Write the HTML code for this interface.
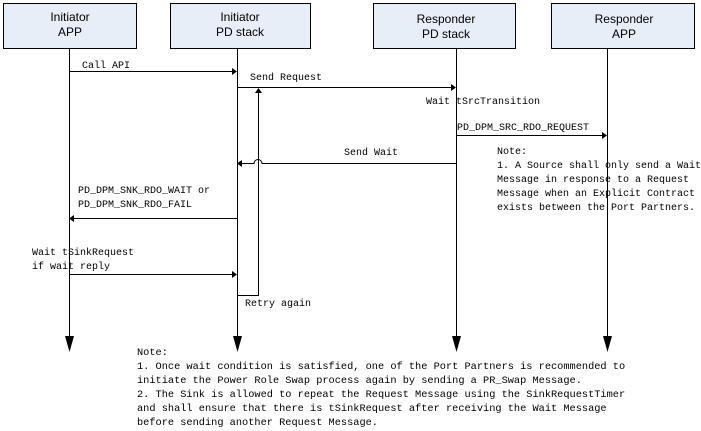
<!DOCTYPE html>
<html><head><meta charset="utf-8"><style>
body{margin:0;background:#fff}
svg{display:block}
.m{font-family:"Liberation Mono",monospace;font-size:10px;fill:#000}
.n{font-family:"Liberation Mono",monospace;font-size:10.3px;fill:#000}
.b{font-family:"Liberation Sans",sans-serif;font-size:12px;fill:#000;text-anchor:middle}
</style></head><body>
<svg width="701" height="431" viewBox="0 0 701 431" xmlns="http://www.w3.org/2000/svg">
<g fill="#e8eef8" stroke="#000" stroke-width="1">
<rect x="3.5" y="3.5" width="133" height="45"/>
<rect x="170.5" y="3.5" width="140" height="45"/>
<rect x="373.5" y="3.5" width="142" height="45"/>
<rect x="551.5" y="3.5" width="143" height="45"/>
</g>
<text class="b" x="70" y="21">Initiator</text><text class="b" x="70" y="36">APP</text>
<text class="b" x="240" y="21">Initiator</text><text class="b" x="240" y="36">PD stack</text>
<text class="b" x="446" y="23">Responder</text><text class="b" x="446" y="38">PD stack</text>
<text class="b" x="624" y="23">Responder</text><text class="b" x="624" y="38">APP</text>
<g stroke="#000" stroke-width="1" fill="none">
<line x1="69.5" y1="49" x2="69.5" y2="338"/>
<line x1="237.5" y1="49" x2="237.5" y2="338"/>
<line x1="456.5" y1="49" x2="456.5" y2="338"/>
<line x1="607.5" y1="49" x2="607.5" y2="338"/>
<line x1="69" y1="71.5" x2="233" y2="71.5"/>
<line x1="237" y1="87.5" x2="452" y2="87.5"/>
<line x1="456" y1="135.5" x2="603" y2="135.5"/>
<path d="M456 163.5 H262 a4 4 0 0 0 -8 0 H241"/>
<line x1="237" y1="218.5" x2="73" y2="218.5"/>
<line x1="69" y1="274.5" x2="233" y2="274.5"/>
<path d="M237 295.5 H258.5 V93"/>
</g>
<g fill="#000">
<path d="M65 336 H74 L69.5 352Z"/>
<path d="M233 336 H242 L237.5 352Z"/>
<path d="M452 336 H461 L456.5 352Z"/>
<path d="M603 336 H612 L607.5 352Z"/>
<path d="M232 68 L237 71.5 L232 75Z"/>
<path d="M451 84 L456 87.5 L451 91Z"/>
<path d="M602 132 L607 135.5 L602 139Z"/>
<path d="M242 160 L237 163.5 L242 167Z"/>
<path d="M74 215 L69 218.5 L74 222Z"/>
<path d="M232 271 L237 274.5 L232 278Z"/>
<path d="M255 93 L258.5 88 L262 93Z"/>
</g>
<text class="m" x="82" y="68">Call API</text>
<text class="m" x="250" y="80">Send Request</text>
<text class="m" x="426" y="104">Wait tSrcTransition</text>
<text class="m" x="457" y="130">PD_DPM_SRC_RDO_REQUEST</text>
<text class="m" x="344" y="155">Send Wait</text>
<text class="m" x="497" y="154">Note:</text>
<text class="m" x="497" y="168">1. A Source shall only send a Wait</text>
<text class="m" x="497" y="182">Message in response to a Request</text>
<text class="m" x="497" y="196">Message when an Explicit Contract</text>
<text class="m" x="497" y="210">exists between the Port Partners.</text>
<text class="m" x="78" y="193">PD_DPM_SNK_RDO_WAIT or</text>
<text class="m" x="78" y="207">PD_DPM_SNK_RDO_FAIL</text>
<text class="m" x="32" y="255">Wait tSinkRequest</text>
<text class="m" x="32" y="269">if wait reply</text>
<text class="m" x="245" y="306">Retry again</text>
<text class="n" x="137" y="355">Note:</text>
<text class="n" x="137" y="369">1. Once wait condition is satisfied, one of the Port Partners is recommended to</text>
<text class="n" x="137" y="383">initiate the Power Role Swap process again by sending a PR_Swap Message.</text>
<text class="n" x="137" y="397">2. The Sink is allowed to repeat the Request Message using the SinkRequestTimer</text>
<text class="n" x="137" y="411">and shall ensure that there is tSinkRequest after receiving the Wait Message</text>
<text class="n" x="137" y="425">before sending another Request Message.</text>
</svg>
</body></html>
